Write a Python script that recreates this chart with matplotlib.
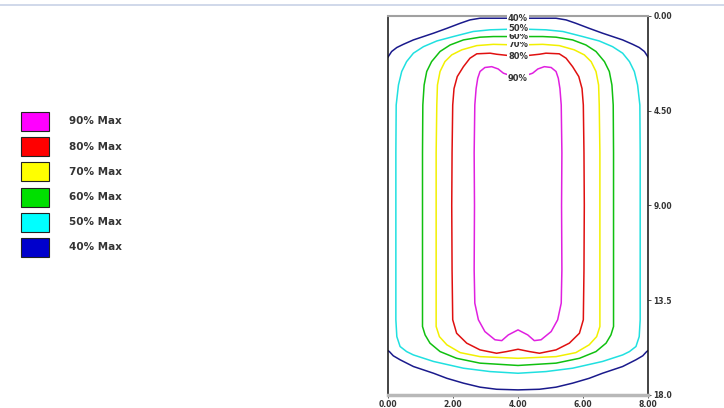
import matplotlib
matplotlib.use("Agg")
import matplotlib.pyplot as plt
from matplotlib.patches import Rectangle
from matplotlib.lines import Line2D

plt.rcParams['font.family'] = ['DejaVu Sans']

# contour levels and legend
levels = ["90%", "80%", "70%", "60%", "50%", "40%"]
colors = ["#ff00ff", "#ff0000", "#ffff00", "#00e000", "#00ffff", "#0000cc"]
line_colors = ["#e020e0", "#e01010", "#f2f000", "#10c010", "#20e0e0", "#1a1a8c"]
label_y = [2.96, 1.93, 1.38, 0.98, 0.62, 0.14]

# left half of each closed contour, from top centre down the left side to bottom centre
c90_x = [4.0, 3.55, 3.39, 3.19, 2.98, 2.83, 2.76, 2.71, 2.67, 2.65, 2.66, 2.65, 2.67, 2.78, 2.98, 3.29, 3.50, 3.70, 4.0]
c90_y = [2.96, 2.72, 2.52, 2.41, 2.45, 2.64, 2.96, 3.45, 4.23, 6.5, 9.0, 12.06, 13.64, 14.43, 14.99, 15.38, 15.42, 15.15, 14.91]
c80_x = [4.0, 3.34, 3.14, 2.73, 2.52, 2.32, 2.13, 2.03, 1.99, 1.97, 1.96, 1.97, 1.99, 2.11, 2.42, 2.83, 3.34, 3.65, 4.0]
c80_y = [1.93, 1.82, 1.77, 1.80, 2.01, 2.41, 2.88, 3.45, 4.23, 6.5, 9.0, 12.06, 14.43, 15.07, 15.54, 15.86, 16.02, 15.94, 15.83]
c70_x = [4.0, 3.24, 2.73, 2.27, 1.96, 1.75, 1.60, 1.52, 1.50, 1.48, 1.48, 1.48, 1.48, 1.58, 1.81, 2.22, 2.83, 4.0]
c70_y = [1.38, 1.35, 1.41, 1.61, 1.85, 2.17, 2.64, 3.28, 4.23, 6.5, 9.0, 12.06, 14.75, 15.23, 15.62, 15.99, 16.18, 16.26]
c60_x = [4.0, 3.24, 2.83, 2.32, 1.91, 1.60, 1.34, 1.19, 1.11, 1.07, 1.06, 1.06, 1.06, 1.06, 1.14, 1.29, 1.60, 2.11, 2.83, 4.0]
c60_y = [0.98, 0.98, 1.01, 1.14, 1.38, 1.69, 2.17, 2.64, 3.28, 4.23, 6.5, 9.0, 12.06, 14.75, 15.15, 15.54, 15.94, 16.26, 16.49, 16.60]
c50_x = [4.0, 3.14, 2.62, 2.01, 1.50, 1.09, 0.78, 0.57, 0.42, 0.32, 0.25, 0.24, 0.24, 0.24, 0.24, 0.27, 0.37, 0.57, 0.78, 1.40, 2.32, 3.14, 4.0]
c50_y = [0.62, 0.66, 0.74, 0.98, 1.19, 1.46, 1.77, 2.17, 2.64, 3.28, 4.23, 6.5, 9.0, 12.06, 14.43, 15.23, 15.70, 15.94, 16.10, 16.41, 16.73, 16.89, 16.97]
# 40% only shows as two arcs (it leaves the plot at the left and right edges),
# listed from the left edge to the centre
c40t_x = [0.0, 0.11, 0.27, 0.47, 0.78, 1.09, 1.40, 1.81, 2.22, 2.52, 2.83, 3.54, 4.0]
c40t_y = [1.95, 1.69, 1.50, 1.35, 1.14, 0.98, 0.82, 0.59, 0.35, 0.19, 0.11, 0.11, 0.11]
c40b_x = [0.0, 0.04, 0.16, 0.37, 0.78, 1.40, 1.81, 2.32, 2.83, 3.34, 4.0]
c40b_y = [15.90, 15.94, 16.14, 16.33, 16.65, 16.97, 17.21, 17.44, 17.63, 17.73, 17.76]

x_ticks = [0, 2, 4, 6, 8]
x_tick_labels = ["0.00", "2.00", "4.00", "6.00", "8.00"]
y_ticks = [0, 4.5, 9, 13.5, 18]
y_tick_labels = ["0.00", "4.50", "9.00", "13.5", "18.0"]


def mirror(xs, ys):
    # the pattern is symmetric about x = 4
    full_x = list(xs) + [8 - v for v in reversed(xs)]
    full_y = list(ys) + list(reversed(ys))
    return full_x, full_y


fig = plt.figure(figsize=(7.24, 4.08), dpi=100)
ax = fig.add_axes([0.536, 0.032, 0.359, 0.929])

closed = [(c90_x, c90_y), (c80_x, c80_y), (c70_x, c70_y), (c60_x, c60_y), (c50_x, c50_y)]
for i, (xs, ys) in enumerate(closed):
    fx, fy = mirror(xs, ys)
    ax.plot(fx, fy, color=line_colors[i], lw=1.1, zorder=2)

for xs, ys in [(c40t_x, c40t_y), (c40b_x, c40b_y)]:
    fx, fy = mirror(xs, ys)
    ax.plot(fx, fy, color=line_colors[5], lw=1.1, zorder=2)

# inline contour labels at the top centre
for lab, yv in zip(levels, label_y):
    ax.text(4, yv, lab, ha="center", va="center", fontsize=6, fontweight="bold",
            color="#333333", zorder=5,
            bbox=dict(facecolor="white", edgecolor="none", pad=0.5))

ax.set_xlim(0, 8)
ax.set_ylim(18, 0)
ax.yaxis.tick_right()
ax.set_xticks(x_ticks)
ax.set_xticklabels(x_tick_labels)
ax.set_yticks(y_ticks)
ax.set_yticklabels(y_tick_labels)
ax.tick_params(labelsize=5.5, length=2.5, width=0.6, color="#333333", labelcolor="#333333", pad=1.5)
for t in ax.get_xticklabels() + ax.get_yticklabels():
    t.set_fontweight("bold")

ax.spines["left"].set_color("#111111")
ax.spines["right"].set_color("#111111")
ax.spines["left"].set_linewidth(1.1)
ax.spines["right"].set_linewidth(1.1)
ax.spines["top"].set_color("#a0a0a0")
ax.spines["top"].set_linewidth(1.5)
ax.spines["bottom"].set_color("#b8b8b8")
ax.spines["bottom"].set_linewidth(2.5)

# faint rule across the very top of the picture
fig.add_artist(Line2D([0, 1], [0.988, 0.988], color="#c8d2e6", lw=1.2))

# legend on the left
box_w = 28 / 724
box_h = 19 / 408
for i, (lab, col) in enumerate(zip(levels, colors)):
    yc = 1 - (121.5 + i * 25.2) / 408
    fig.add_artist(Rectangle((21 / 724, yc - box_h / 2), box_w, box_h,
                             facecolor=col, edgecolor="#222222", lw=0.8))
    fig.text(69 / 724, yc, lab + " Max", ha="left", va="center", fontsize=7.5,
             fontweight="bold", color="#333333")

fig.savefig("out.png", dpi=100)
